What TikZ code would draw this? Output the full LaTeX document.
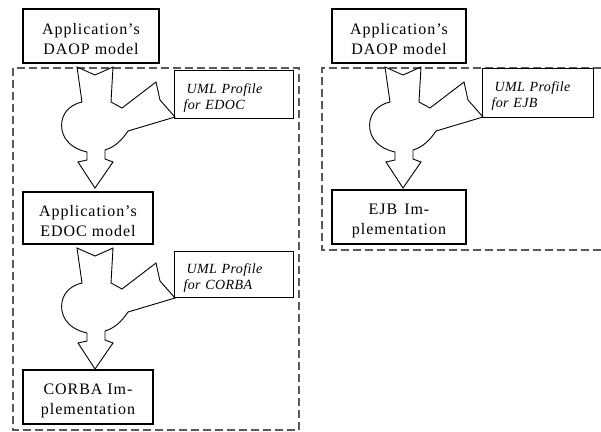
\documentclass[tikz,border=0pt]{standalone}
\usepackage{fontspec}
\setmainfont{Liberation Serif}
\usetikzlibrary{positioning}
\newcommand\modelfont{\fontsize{16bp}{20bp}\selectfont\addfontfeature{LetterSpace=6}}
\newcommand\profilefont{\fontsize{14bp}{16bp}\selectfont\itshape\addfontfeature{LetterSpace=3}}
\newcommand\topgap[1]{\rule{0pt}{#1bp}}
\tikzset{
  xform/.pic={
    \draw[line width=0.9bp,line join=miter] (-18,0) -- (0,8) -- (18,0) -- (16,35) -- (27,41) -- (61,15) -- (65,33) -- (80,50) -- (33,64)
      .. controls (27,73) and (20,80) .. (10,83) -- (10,92) -- (18,95) -- (0,121) -- (-17,95) -- (-8,93) -- (-8,85)
      .. controls (-30,80) and (-35,65) .. (-33,54) .. controls (-31,43) and (-22,37) .. (-13,35) -- cycle;
  }
}
\begin{document}
\begin{tikzpicture}[x=1bp,y=-1bp,
    modelbox/.style={draw,line width=2bp,inner sep=0pt,align=center,font=\modelfont},
    profilebox/.style={draw,line width=0.9bp,inner xsep=9.5bp,inner ysep=0pt,text width=100bp,align=left,font=\profilefont},
    frame/.style={draw=black!65,line width=1.2bp,dash pattern=on 8bp off 4bp}]
  \useasboundingbox (0,0) rectangle (601,431);
  \draw[frame] (13,68) rectangle (299,430);
  \draw[frame] (601,68) -- (322,68) -- (322,250) -- (601,250);
  \pic at (95,67) {xform};
  \pic at (95,248) {xform};
  \pic at (403,67) {xform};
  \node[modelbox,minimum width=136bp,minimum height=54bp] (daopL) at (91,36) {\topgap{18}Application’s\\DAOP model};
  \node[modelbox,minimum width=130bp,minimum height=52bp] (edocL) at (88,218) {\topgap{18}Application’s\\EDOC model};
  \node[modelbox,minimum width=130bp,minimum height=54bp] (corbaL) at (88,397) {\topgap{18}CORBA Im-\\plementation};
  \node[profilebox,minimum height=48bp] (umlEdoc) at (233.5,94) {\topgap{17}\hspace*{3bp}UML Profile\\for EDOC};
  \node[profilebox,minimum height=46bp] (umlCorba) at (233.5,274) {\topgap{17}\hspace*{3bp}UML Profile\\for CORBA};
  \node[modelbox,minimum width=134bp,minimum height=54bp] (daopR) at (399,36) {\topgap{18}Application’s\\DAOP model};
  \node[profilebox,text width=92bp,minimum height=49bp] (umlEjb) at (537.5,92.5) {\topgap{17}\hspace*{3bp}UML Profile\\for EJB};
  \node[modelbox,minimum width=134bp,minimum height=54bp] (ejbR) at (399,217) {\topgap{18}EJB\hspace{7bp}Im-\\plementation};
\end{tikzpicture}
\end{document}
